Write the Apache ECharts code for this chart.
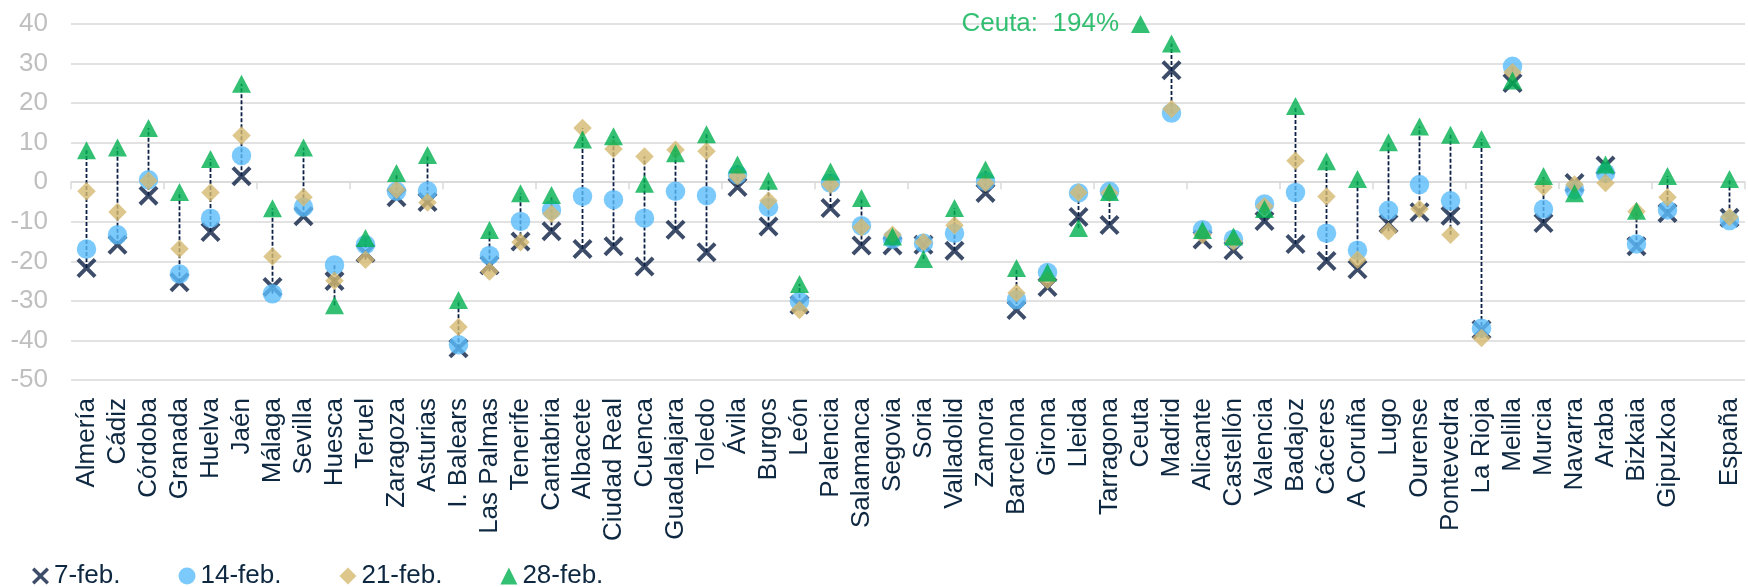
<!DOCTYPE html>
<html>
<head>
<meta charset="utf-8">
<script src="https://cdn.jsdelivr.net/npm/echarts@6/dist/echarts.min.js"></script>
<style>
  html, body { margin: 0; padding: 0; background: #ffffff; }
  #chart { width: 1748px; height: 587px; }
</style>
</head>
<body>
<div id="chart"></div>
<script>
const categories = ['Almería','Cádiz','Córdoba','Granada','Huelva','Jaén','Málaga','Sevilla','Huesca','Teruel','Zaragoza','Asturias','I. Balears','Las Palmas','Tenerife','Cantabria','Albacete','Ciudad Real','Cuenca','Guadalajara','Toledo','Ávila','Burgos','León','Palencia','Salamanca','Segovia','Soria','Valladolid','Zamora','Barcelona','Girona','Lleida','Tarragona','Ceuta','Madrid','Alicante','Castellón','Valencia','Badajoz','Cáceres','A Coruña','Lugo','Ourense','Pontevedra','La Rioja','Melilla','Murcia','Navarra','Araba','Bizkaia','Gipuzkoa','','España'];

const seriesNames = ['7-feb.', '14-feb.', '21-feb.', '28-feb.'];

const feb7 = [-21.7,-15.8,-3.4,-25.3,-12.6,1.5,-26.5,-8.6,-25.0,-17.9,-3.8,-5.0,-42.0,-21.0,-15.0,-12.4,-16.9,-16.2,-21.3,-12.0,-17.7,-1.2,-11.2,-31.0,-6.5,-16.0,-16.0,-15.8,-17.3,-2.7,-32.3,-26.5,-8.8,-10.8,null,28.3,-14.5,-17.2,-9.8,-15.6,-19.9,-22.0,-10.5,-7.6,-8.5,-37.3,25.1,-10.3,-0.2,4.2,-16.2,-7.8,null,-9.0];

const feb14 = [-16.9,-13.3,0.6,-23.2,-9.1,6.7,-28.2,-6.3,-20.9,-15.8,-2.3,-2.2,-41.1,-18.5,-9.9,-7.0,-3.6,-4.4,-9.1,-2.3,-3.4,1.9,-6.3,-30.1,-0.2,-11.0,-14.4,-15.4,-12.9,0.2,-29.7,-22.8,-2.7,-2.3,null,17.5,-12.0,-14.4,-5.5,-2.6,-12.9,-17.2,-7.1,-0.6,-4.7,-36.9,29.3,-6.8,-1.9,2.3,-15.6,-7.0,null,-9.7];

const feb21 = [-2.3,-7.5,0.4,-16.8,-2.6,11.8,-18.8,-3.8,-24.9,-19.6,-1.9,-5.1,-36.6,-22.6,-15.2,-8.0,13.7,8.4,6.5,8.2,7.8,1.5,-4.7,-32.3,-0.6,-11.4,-13.3,-15.2,-10.9,-0.2,-28.0,-24.7,-2.6,-2.7,null,18.5,-13.3,-15.0,-6.1,5.4,-3.6,-19.6,-12.4,-6.8,-13.3,-39.4,27.8,-1.2,-0.6,-0.2,-7.4,-3.8,null,-8.8];

const feb28 = [8.1,8.8,13.7,-2.5,5.9,24.9,-6.6,8.8,-31.1,-14.1,2.3,6.9,-29.8,-12.1,-2.8,-3.2,10.8,11.6,-0.4,7.3,12.1,4.5,0.4,-25.7,2.7,-4.0,-13.7,-19.4,-6.5,3.2,-21.7,-22.8,-11.6,-2.5,194,35.1,-12.1,-13.7,-6.8,19.3,5.3,0.8,10.1,14.1,12.0,10.9,25.7,1.6,-2.8,4.5,-7.2,1.6,null,0.8];

const yTicks = { min: -50, max: 40, interval: 10 };

const navy = '#0b1f44';
const textNavy = '#0e2841';
const colors = [navy, '#5bbdfb', '#d5b970', '#00b050'];
const xPath = 'path://M14,0L50,36L86,0L100,14L64,50L100,86L86,100L50,64L14,100L0,86L36,50L0,14Z';
const fontFam = 'Liberation Sans, Arial, sans-serif';

// High-low ranges across the four series (only where at least two values exist)
const ranges = [];
categories.forEach((c, i) => {
  const vals = [feb7[i], feb14[i], feb21[i], feb28[i]].filter(v => v !== null && v !== undefined);
  if (vals.length >= 2) ranges.push([i, Math.min(...vals), Math.max(...vals)]);
});

function toPoints(arr) {
  return arr.map((v, i) => {
    if (v === null) return null;
    if (v > yTicks.max) {
      return {
        value: [i, yTicks.max], raw: v,
        label: {
          show: true, position: 'left', distance: 12,
          formatter: categories[i] + ':  ' + v + '%',
          color: '#00b050', fontSize: 26, fontFamily: fontFam
        }
      };
    }
    return [i, v];
  }).filter(p => p !== null);
}

const chart = echarts.init(document.getElementById('chart'), null, { renderer: 'canvas' });

const option = {
  animation: false,
  backgroundColor: '#ffffff',
  textStyle: { fontFamily: fontFam },
  grid: { left: 71, right: 3, top: 24, bottom: 207, containLabel: false },
  legend: {
    data: seriesNames,
    left: 32, top: 563, padding: 0,
    itemWidth: 17, itemHeight: 17, itemGap: 58,
    textStyle: { fontSize: 26, color: textNavy, fontFamily: fontFam }
  },
  xAxis: [
    {
      type: 'category', data: categories, boundaryGap: true,
      axisLine: { show: true, onZero: true, lineStyle: { color: '#d9d9d9', width: 1.5 } },
      axisTick: { show: true, length: 7, lineStyle: { color: '#d9d9d9', width: 1.5 } },
      axisLabel: { show: false },
      splitLine: { show: false }
    },
    {
      type: 'category', data: categories, boundaryGap: true, position: 'bottom',
      axisLine: { show: false, onZero: false },
      axisTick: { show: false },
      axisLabel: {
        show: true, interval: 0, rotate: 90, margin: 18,
        fontSize: 26, color: textNavy, fontFamily: fontFam
      },
      splitLine: { show: false }
    }
  ],
  yAxis: {
    type: 'value', min: yTicks.min, max: yTicks.max, interval: yTicks.interval,
    axisLine: { show: false }, axisTick: { show: false },
    axisLabel: { fontSize: 26, color: '#bfbfbf', margin: 23, fontFamily: fontFam },
    splitLine: { show: true, lineStyle: { color: '#d9d9d9', width: 1.5 } }
  },
  series: [
    {
      type: 'custom', name: 'range', xAxisIndex: 0, z: 1, silent: true,
      data: ranges,
      encode: { x: 0, y: [1, 2] },
      renderItem: function (params, api) {
        const i = api.value(0);
        const p1 = api.coord([i, api.value(1)]);
        const p2 = api.coord([i, api.value(2)]);
        return {
          type: 'line',
          shape: { x1: p1[0], y1: p1[1], x2: p2[0], y2: p2[1] },
          style: { stroke: navy, lineWidth: 1.8, lineDash: [4, 2] }
        };
      }
    },
    { type: 'scatter', name: seriesNames[0], xAxisIndex: 0, z: 2, symbol: xPath, symbolSize: 20,
      itemStyle: { color: colors[0] }, data: toPoints(feb7) },
    { type: 'scatter', name: seriesNames[1], xAxisIndex: 0, z: 3, symbol: 'circle', symbolSize: 19.5,
      itemStyle: { color: colors[1] }, data: toPoints(feb14) },
    { type: 'scatter', name: seriesNames[2], xAxisIndex: 0, z: 4, symbol: 'diamond', symbolSize: 18.5,
      itemStyle: { color: colors[2] }, data: toPoints(feb21) },
    { type: 'scatter', name: seriesNames[3], xAxisIndex: 0, z: 5, symbol: 'triangle', symbolSize: [19, 18],
      itemStyle: { color: colors[3] }, data: toPoints(feb28) }
  ]
};

chart.setOption(option);
</script>
</body>
</html>
